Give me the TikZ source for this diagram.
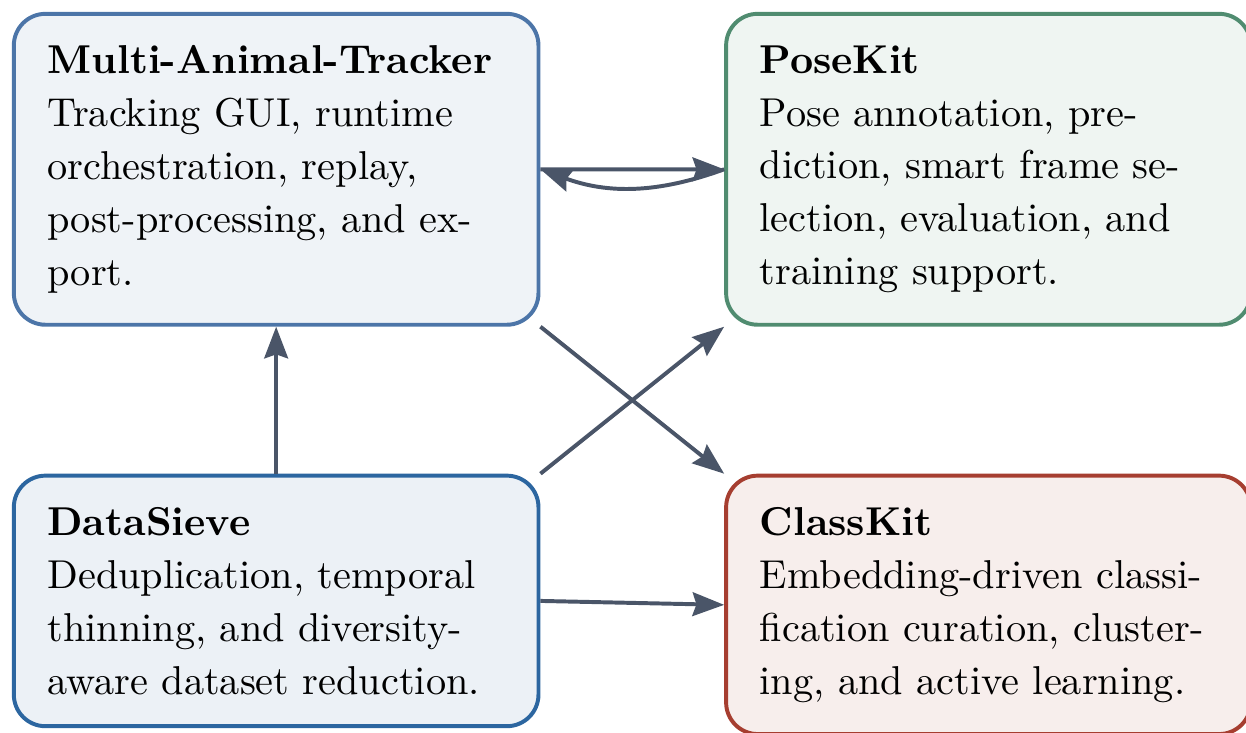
\documentclass[tikz,border=0pt]{standalone}
\usepackage{tikz}
\usetikzlibrary{positioning, arrows.meta}

\definecolor{matblue}{RGB}{76,117,168}
\definecolor{dsblue}{RGB}{44,102,160}
\definecolor{posegreen}{RGB}{80,140,112}
\definecolor{ckred}{RGB}{166,62,48}
\definecolor{linkgray}{RGB}{74,85,104}

\begin{document}
\begin{tikzpicture}[
    box/.style={draw=#1, fill=#1!9, line width=1pt, rounded corners=8pt, align=left,
        text width=4.07cm, inner xsep=8.5pt, inner ysep=8pt, anchor=north west,
        font=\fontsize{10.2}{13.4}\selectfont},
    link/.style={draw=linkgray, line width=1pt, -{Stealth[length=8pt, width=6pt, inset=1pt]}}
]
    \useasboundingbox (0,0) rectangle (315.4pt,-185.3pt);

    \node[box=matblue] (mat) at (3pt,-3pt) {\textbf{Multi-Animal-Tracker}\\
        Tracking GUI, runtime orchestration, replay, post-processing, and export.};
    \node[box=posegreen, right=46.5pt of mat.north east, anchor=north west] (pose) {\textbf{PoseKit}\\
        Pose annotation, prediction, smart frame selection, evaluation, and training support.};
    \node[box=dsblue, below=37.2pt of mat.south west, anchor=north west] (sieve) {\textbf{DataSieve}\\
        Deduplication, temporal thinning, and diversity-aware dataset reduction.};
    \node[box=ckred, below=37.2pt of pose.south west, anchor=north west] (classkit) {\textbf{ClassKit}\\
        Embedding-driven classification curation, clustering, and active learning.};

    \draw[link] (mat.east) -- (pose.west);
    \draw[link] (pose.west) to[bend left=20] (mat.east);
    \draw[link] (sieve.north) -- (mat.south);
    \draw[link] (mat.south east) -- (classkit.north west);
    \draw[link] (sieve.north east) -- (pose.south west);
    \draw[link] (sieve.east) -- (classkit.west);
\end{tikzpicture}
\end{document}
